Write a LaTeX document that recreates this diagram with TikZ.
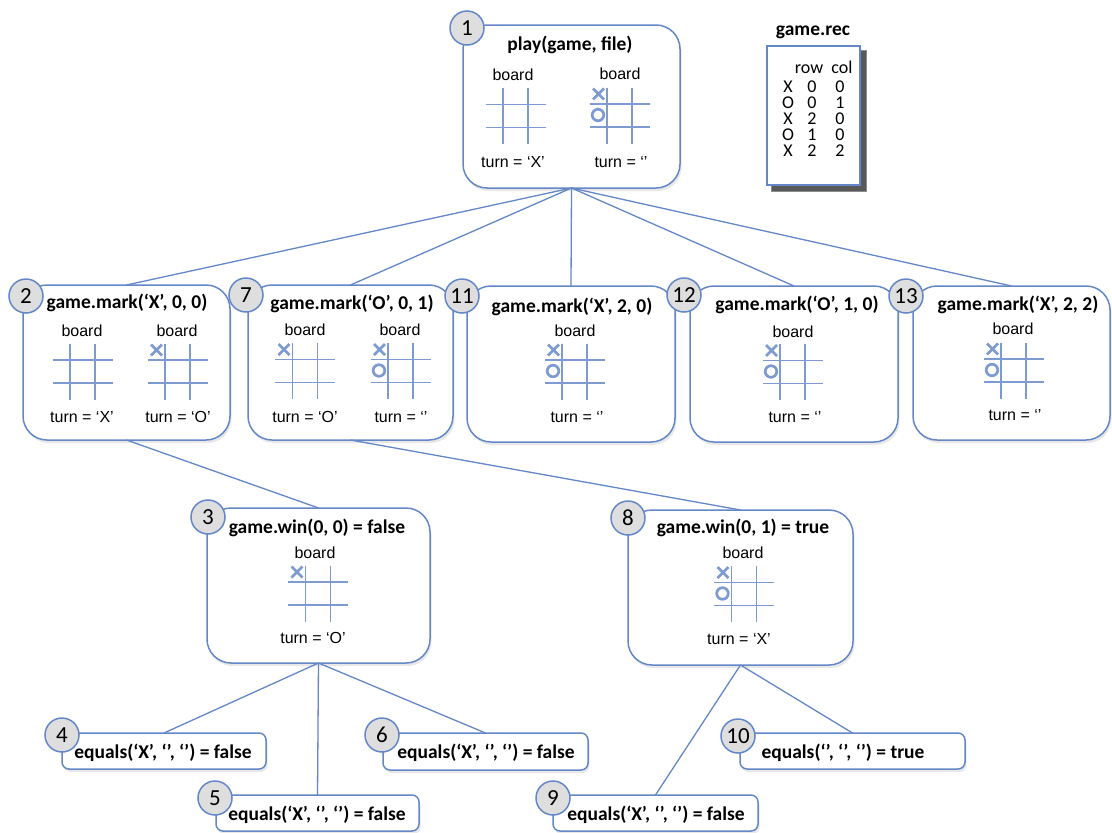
\documentclass[tikz,border=0pt]{standalone}
\usepackage{fontspec}
\setmainfont{Liberation Sans}
\newfontfamily\calfont{Carlito}
\usetikzlibrary{shadows}

\definecolor{edge}{RGB}{100,135,200}
\definecolor{gridc}{RGB}{125,155,208}
\definecolor{badgefill}{RGB}{222,222,222}

% tic-tac-toe grid centred at (#1,#2); #3 = 0 empty, 1 with X, 2 with X and O
\newcommand\tttgrid[3]{%
  \begin{scope}[shift={(#1,#2)}]
    \draw[gridline] (-12.5,-28) -- (-12.5,28) (12.5,-28) -- (12.5,28)
                    (-30,-11.5) -- (30,-11.5) (-30,11.5) -- (30,11.5);
    \ifnum#3>0 \draw[markline] (-26.5,-27) -- (-15.5,-16) (-26.5,-16) -- (-15.5,-27);\fi
    \ifnum#3>1 \draw[markline] (-21.5,-0.5) circle[radius=5.8];\fi
  \end{scope}}

\tikzset{
  bigbox/.style={draw=edge, line width=1.5pt, fill=white, rounded corners=24pt,
    inner sep=0pt, outer sep=0pt,
    drop shadow={opacity=0.18, shadow xshift=1.5pt, shadow yshift=-3pt}},
  smallbox/.style={bigbox, rounded corners=7pt},
  badge/.style={circle, draw=edge, line width=1.5pt, fill=badgefill,
    minimum size=34pt, inner sep=0pt, font=\calfont\fontsize{23}{23}\selectfont},
  title/.style={font=\calfont\bfseries\fontsize{19.5}{22}\selectfont, inner sep=0pt},
  lbl/.style={font=\fontsize{16}{18}\selectfont, inner sep=0pt},
  tab/.style={font=\calfont\fontsize{18}{20}\selectfont, inner sep=0pt, anchor=base},
  conn/.style={draw=edge, line width=1.3pt},
  gridline/.style={draw=gridc, line width=1.9pt},
  markline/.style={draw=gridc, line width=2.7pt},
}

\begin{document}
\begin{tikzpicture}[x=1pt, y=-1pt]
\fill[white] (0,0) rectangle (1112,833);
\useasboundingbox (0,0) rectangle (1112,833);

% ---- boxes (centres and sizes) ----
\node[bigbox, minimum width=217pt, minimum height=163pt] (b1) at (571.5,106.5) {};
\node[bigbox, minimum width=207pt, minimum height=155pt] (b2) at (126.5,362.5) {};
\node[bigbox, minimum width=205pt, minimum height=155pt] (b7) at (350.5,362.5) {};
\node[bigbox, minimum width=208pt, minimum height=156pt] (b11) at (571,364) {};
\node[bigbox, minimum width=208pt, minimum height=156pt] (b12) at (794,364) {};
\node[bigbox, minimum width=197pt, minimum height=154pt] (b13) at (1011.5,363) {};
\node[bigbox, minimum width=223pt, minimum height=155pt] (b3) at (318.5,585.5) {};
\node[bigbox, minimum width=225pt, minimum height=155pt] (b8) at (740.5,587.5) {};
\node[smallbox, minimum width=204pt, minimum height=36pt] (b4) at (164,751) {};
\node[smallbox, minimum width=203pt, minimum height=36pt] (b5) at (317.5,813) {};
\node[smallbox, minimum width=205pt, minimum height=37pt] (b6) at (485.5,751.5) {};
\node[smallbox, minimum width=205pt, minimum height=36pt] (b9) at (655.5,813) {};
\node[smallbox, minimum width=225pt, minimum height=36pt] (b10) at (852.5,751) {};

% ---- call tree connectors ----
\draw[conn] (b1.south) -- (b2.north);
\draw[conn] (b1.south) -- (b7.north);
\draw[conn] (b1.south) -- (b11.north);
\draw[conn] (b1.south) -- (b12.north);
\draw[conn] (b1.south) -- (b13.north);
\draw[conn] (b2.south) -- (b3.north);
\draw[conn] (b7.south) -- (b8.north);
\draw[conn] (b3.south) -- (b4.north);
\draw[conn] (b3.south) -- (b5.north);
\draw[conn] (b3.south) -- (b6.north);
\draw[conn] (b8.south) -- (b9.north);
\draw[conn] (b8.south) -- (b10.north);

% ---- box 1 ----
\node[title] (t1) at (570,45) {play(game, file)};
\node[lbl] (bd1a) at (513,75) {board};
\node[lbl] (bd1b) at (620,74) {board};
\tttgrid{515.5}{116}{0}
\tttgrid{619.5}{115.5}{2}
\node[lbl] (tu1a) at (513,162) {turn = ‘X’};
\node[lbl] (tu1b) at (621,162) {turn = ‘’};

% ---- box 2 ----
\node[title] (t2) at (127,303) {game.mark(‘X’, 0, 0)};
\node[lbl] (bd2a) at (82,331) {board};
\node[lbl] (bd2b) at (177,331) {board};
\tttgrid{82.5}{371.5}{0}
\tttgrid{177.5}{371.5}{1}
\node[lbl] (tu2a) at (82,417) {turn = ‘X’};
\node[lbl] (tu2b) at (178,417) {turn = ‘O’};

% ---- box 7 ----
\node[title] (t7) at (352,304) {game.mark(‘O’, 0, 1)};
\node[lbl] (bd7a) at (305,330) {board};
\node[lbl] (bd7b) at (400,330) {board};
\tttgrid{305}{371}{1}
\tttgrid{400.5}{371}{2}
\node[lbl] (tu7a) at (305,417) {turn = ‘O’};
\node[lbl] (tu7b) at (401,417) {turn = ‘’};

% ---- box 11 ----
\node[title] (t11) at (572,307) {game.mark(‘X’, 2, 0)};
\node[lbl] (bd11) at (575,331) {board};
\tttgrid{574.5}{371.5}{2}
\node[lbl] (tu11) at (577,417) {turn = ‘’};

% ---- box 12 ----
\node[title] (t12) at (797,305) {game.mark(‘O’, 1, 0)};
\node[lbl] (bd12) at (793,332) {board};
\tttgrid{792.5}{372}{2}
\node[lbl] (tu12) at (795,417) {turn = ‘’};

% ---- box 13 ----
\node[title] (t13) at (1018,305) {game.mark(‘X’, 2, 2)};
\node[lbl] (bd13) at (1013,329) {board};
\tttgrid{1013.5}{370.5}{2}
\node[lbl] (tu13) at (1015,415) {turn = ‘’};

% ---- box 3 ----
\node[title] (t3) at (317,528) {game.win(0, 0) = false};
\node[lbl] (bd3) at (315,553) {board};
\tttgrid{318}{593.5}{1}
\node[lbl] (tu3) at (313,638) {turn = ‘O’};

% ---- box 8 ----
\node[title] (t8) at (743,528) {game.win(0, 1) = true};
\node[lbl] (bd8) at (743,553) {board};
\tttgrid{744}{594}{2}
\node[lbl] (tu8) at (739,639) {turn = ‘X’};

% ---- leaf calls ----
\node[title] (t4) at (163,753) {equals(‘X’, ‘’, ‘’) = false};
\node[title] (t5) at (317,815) {equals(‘X’, ‘’, ‘’) = false};
\node[title] (t6) at (486,753) {equals(‘X’, ‘’, ‘’) = false};
\node[title] (t9) at (656,815) {equals(‘X’, ‘’, ‘’) = false};
\node[title] (t10) at (843,753) {equals(‘’, ‘’, ‘’) = true};

% ---- step numbers ----
\node[badge] (n1) at (467,28) {1};
\node[badge] (n2) at (26,296) {2};
\node[badge] (n7) at (246,295) {7};
\node[badge] (n11) at (462,296) {11};
\node[badge] (n12) at (684,295) {12};
\node[badge] (n13) at (906,296) {13};
\node[badge] (n3) at (208,517) {3};
\node[badge] (n8) at (628,518) {8};
\node[badge] (n4) at (62,735) {4};
\node[badge] (n5) at (215,798) {5};
\node[badge] (n6) at (382,735) {6};
\node[badge] (n9) at (553,798) {9};
\node[badge] (n10) at (738,736) {10};

% ---- recorded moves ----
\node[title] (rectitle) at (813,32) {game.rec};
\fill[black!45] (771,50) rectangle (867,192);
\fill[black!65] (772,51) rectangle (866,191);
\node[draw=edge, line width=1.5pt, fill=white, inner sep=0pt, outer sep=0pt,
      minimum width=93pt, minimum height=139pt] (rec) at (813.5,115.5) {};
\node[tab] (hrow) at (809,73) {row};
\node[tab] (hcol) at (842,73) {col};
\foreach \p/\r/\c [count=\i from 0] in {X/0/0, O/0/1, X/2/0, O/1/0, X/2/2} {
  \node[tab] (mp\i) at (788,92+16*\i) {\p};
  \node[tab] (mr\i) at (812,92+16*\i) {\r};
  \node[tab] (mc\i) at (840,92+16*\i) {\c};
}
\end{tikzpicture}
\end{document}
